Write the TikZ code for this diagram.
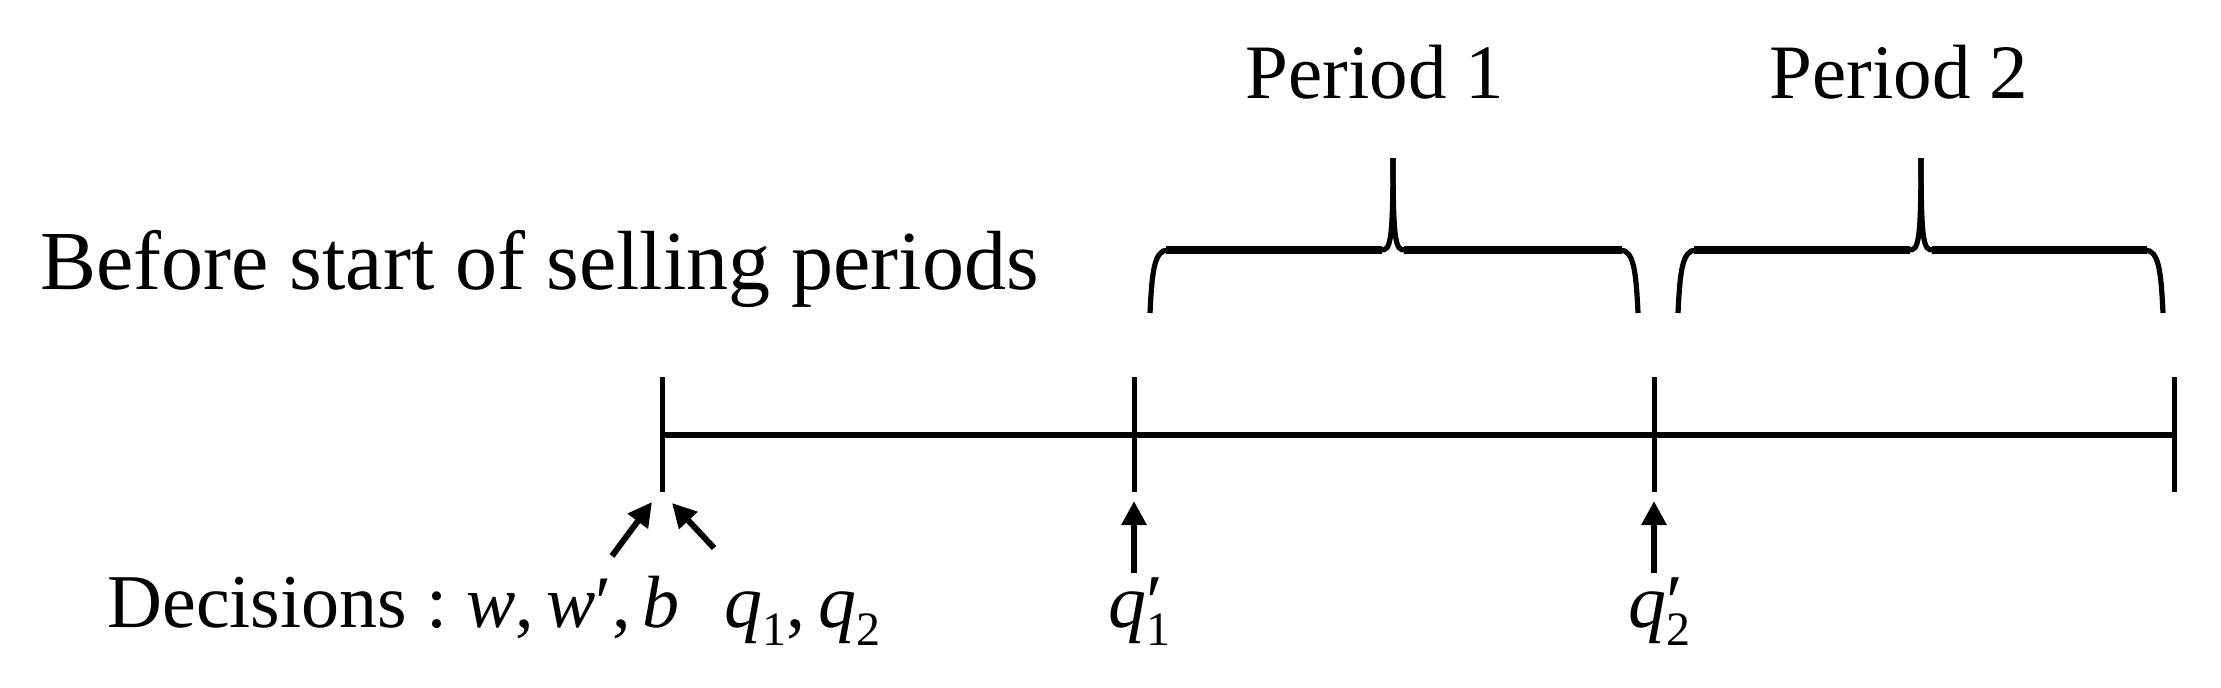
\documentclass[tikz,border=0pt]{standalone}
\usepackage{fontspec}
\setmainfont{Liberation Serif}
\usetikzlibrary{arrows.meta}
\newcommand\sbs[1]{\raisebox{-9pt}{\fontsize{24}{24}\selectfont #1}}
\newcommand\qv{{\itshape q}}
\begin{document}
\begin{tikzpicture}[x=0.5pt,y=-0.5pt,
  axis/.style={line width=2.8pt},
  tickline/.style={line width=2.5pt},
  uparrow/.style={line width=3pt,-{Triangle[length=12pt,width=12pt]}},
  bracepath/.style={line width=2.6pt},
  bracebar/.style={line width=4pt},
  txt/.style={inner sep=0pt,anchor=base west},
  ctxt/.style={inner sep=0pt,anchor=base},
  ]
\useasboundingbox (0,0) rectangle (2221,687);
% timeline
\coordinate (t0) at (662,435);
\coordinate (t1) at (1134,435);
\coordinate (t2) at (1654,435);
\coordinate (t3) at (2174,435);
\draw[axis] (t0) -- (t3);
\foreach \n in {t0,t1,t2,t3}{
  \draw[tickline] ([yshift=29pt]\n) -- ([yshift=-28.5pt]\n);
}
% texts
\node[txt] (before) at (40,289) {\fontsize{42}{48}\selectfont Before start of selling periods};
\node[ctxt] (p1) at (1375,98) {\fontsize{38.5}{44}\selectfont Period 1};
\node[ctxt] (p2) at (1899,98) {\fontsize{38.5}{44}\selectfont Period 2};
\node[txt] (dec) at (107,627) {\fontsize{38}{44}\selectfont Decisions :};
\node[txt] (wwb) at (466,627) {\fontsize{37}{44}\selectfont \textit{w},\,\textit{w}′,\,\textit{b}};
\node[txt] (qq) at (724,627) {\fontsize{38}{44}\selectfont \qv\sbs{1},\,\qv\sbs{2}};
\node[txt] (q1p) at (1108,627) {\fontsize{38}{44}\selectfont \qv\rlap{′}\sbs{1}};
\node[txt] (q2p) at (1628,627) {\fontsize{38}{44}\selectfont \qv\rlap{′}\sbs{2}};
% arrows
\coordinate (a1s) at (1134,573); \coordinate (a1e) at (1134,501);
\coordinate (a2s) at (1654,573); \coordinate (a2e) at (1654,501);
\coordinate (dls) at (612,556); \coordinate (dle) at (652,502);
\coordinate (drs) at (714,548); \coordinate (dre) at (672,503);
\draw[uparrow] (a1s) -- (a1e);
\draw[uparrow] (a2s) -- (a2e);
\draw[uparrow] (dls) -- (dle);
\draw[uparrow] (drs) -- (dre);
% braces
\foreach \L/\M/\R in {1150/1393/1638, 1678/1921/2163}{
  \draw[bracepath] (\L,313) .. controls (\L+2,272) and (\L+4,250) .. (\L+18,250)
     -- (\M-12,250) .. controls (\M-3,250) and (\M,246) .. (\M,158);
  \draw[bracepath] (\R,313) .. controls (\R-2,272) and (\R-4,250) .. (\R-18,250)
     -- (\M+12,250) .. controls (\M+3,250) and (\M,246) .. (\M,158);
  \draw[bracebar] (\L+16,250) -- (\M-11,250);
  \draw[bracebar] (\R-16,250) -- (\M+11,250);
}
\end{tikzpicture}
\end{document}
